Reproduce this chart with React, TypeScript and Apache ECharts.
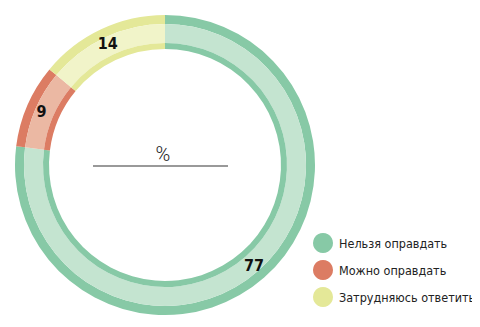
import React, { useEffect, useRef } from "react";
import * as echarts from "echarts";

const categories = ["Нельзя оправдать", "Можно оправдать", "Затрудняюсь ответить"];
const values = [77, 9, 14];
const darkColors = ["#87c9a6", "#dc7c63", "#e4e898"];
const lightColors = ["#c4e4d0", "#ebb8a3", "#f1f4c9"];
const centerLabel = "%";

const condensed = "'DejaVu Sans Condensed', 'Roboto', sans-serif";

export default function App() {
  const ref = useRef<HTMLDivElement>(null);
  useEffect(() => {
    if (!ref.current) return;
    const chart = echarts.init(ref.current, undefined, { renderer: "svg" });
    const mk = (cols: string[]) =>
      categories.map((name, i) => ({ name, value: values[i], itemStyle: { color: cols[i] } }));
    const center = [157, 157];
    const base = {
      type: "pie",
      center,
      startAngle: 90,
      clockwise: true,
      silent: true,
      avoidLabelOverlap: false,
      labelLine: { show: false },
      itemStyle: { borderWidth: 0 },
      emphasis: { disabled: true },
    };
    chart.setOption({
      animation: false,
      legend: {
        orient: "vertical",
        left: 305,
        top: 225,
        padding: 0,
        icon: "circle",
        itemWidth: 20,
        itemHeight: 20,
        itemGap: 7,
        data: categories,
        textStyle: {
          fontFamily: condensed,
          fontSize: 12.5,
          color: "#222",
          padding: [0, 0, 0, 1],
        },
      },
      graphic: [
        {
          type: "text",
          x: 155,
          y: 146,
          style: {
            text: centerLabel,
            fontSize: 20,
            fontFamily: "'Roboto', sans-serif",
            fontWeight: 300,
            fill: "#222",
            align: "center",
            verticalAlign: "middle",
          },
        },
        {
          type: "line",
          shape: { x1: 85, y1: 158, x2: 220, y2: 158 },
          style: { stroke: "#999", lineWidth: 2 },
        },
      ],
      series: [
        { ...base, name: "outer", radius: [141, 150], data: mk(darkColors), label: { show: false } },
        {
          ...base,
          name: "middle",
          radius: [122, 141],
          data: mk(lightColors),
          label: {
            show: true,
            position: "inside",
            formatter: "{c}",
            fontFamily: condensed,
            fontWeight: "bold",
            fontSize: 16,
            color: "#111",
          },
        },
        { ...base, name: "inner", radius: [116, 122], data: mk(darkColors), label: { show: false } },
      ],
    });
    return () => chart.dispose();
  }, []);
  return <div ref={ref} style={{ width: 472, height: 319 }} />;
}
